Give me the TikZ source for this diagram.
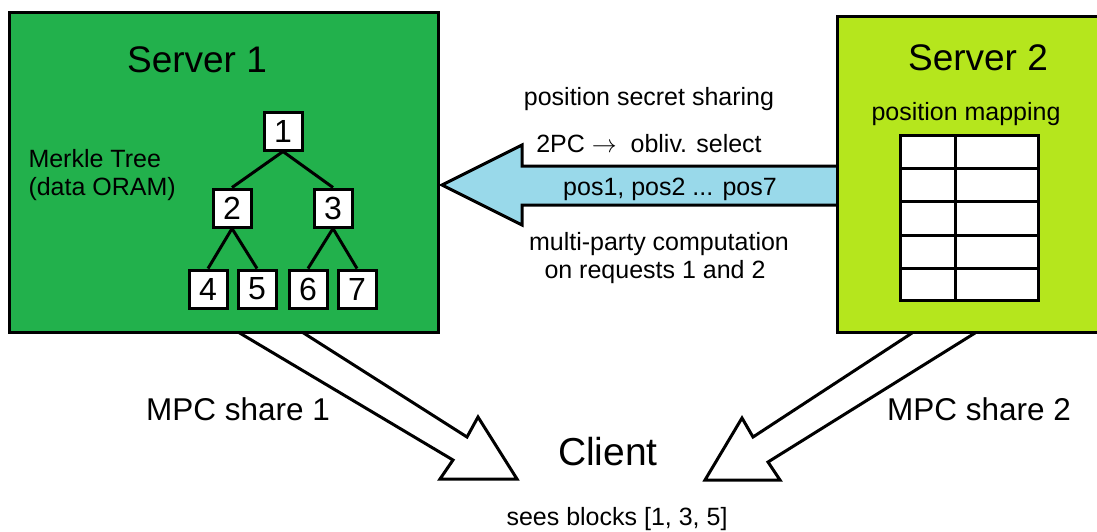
\documentclass[tikz,border=0pt]{standalone}
\usepackage{fontspec}
\setmainfont{Liberation Sans}
\definecolor{srvone}{HTML}{22B14C}
\definecolor{srvtwo}{HTML}{B5E61D}
\definecolor{posblue}{HTML}{99D9EA}
\begin{document}
\begin{tikzpicture}[x=1pt, y=-1pt, line width=3pt, line join=miter]
	\tikzset{leaf/.style={draw, fill=white, minimum size=38pt, inner sep=0pt, font=\fontsize{32}{32}\selectfont},
		txt/.style={inner sep=0pt, anchor=base, font=\fontsize{25}{30}\selectfont},
		title/.style={inner sep=0pt, anchor=base, font=\fontsize{37}{40}\selectfont},
		share/.style={inner sep=0pt, anchor=base, font=\fontsize{31.5}{34}\selectfont},
		hollow/.style={draw, fill=white}}
	\useasboundingbox (0,0) rectangle (1097,531);
	\path (238,332) coordinate (L1) (453,460) coordinate (L2) (440,479) coordinate (L3)
	(517,479) coordinate (L4) (478,417) coordinate (L5) (467,437) coordinate (L6) (302,332) coordinate (L7)
	(912,333) coordinate (R1) (753,437) coordinate (R2) (742,418) coordinate (R3)
	(705,480) coordinate (R4) (780,480) coordinate (R5) (768,462) coordinate (R6) (975,333) coordinate (R7)
	;
	% shares to the client
	\draw[hollow] (L1) -- (L2) -- (L3) -- (L4) -- (L5) -- (L6) -- (L7);
	\draw[hollow] (R1) -- (R2) -- (R3) -- (R4) -- (R5) -- (R6) -- (R7);
	% positions from server 2
	\draw[fill=posblue] (840,166) -- (522,166) -- (522,145) -- (442,185) -- (522,225) -- (522,205) -- (840,205);
	\node[draw, fill=srvone, minimum width=429pt, minimum height=320pt] (S1) at (223.5,172) {};
	\node[draw, fill=srvtwo, minimum width=280pt, minimum height=316pt] (S2) at (977,174.5) {};
	\node[title] (t1) at (197,72) {Server 1};
	\node[title] (t2) at (978,70) {Server 2};
	\node[txt, anchor=base west] (merkle) at (27,167) {Merkle Tree};
	\node[txt, anchor=base west] (oram) at (27,195) {(data ORAM)};
	\node[txt] (pmap) at (966,120) {position mapping};
	% tree
	\foreach \p/\x/\y in {1/283/131,2/232/208,3/333/208,4/208/289,5/257/289,6/308/289,7/357/289}
	\node[leaf] (n\p) at (\x,\y) {\p};
	\foreach \a/\b in {1/2,1/3,2/4,2/5,3/6,3/7}
	\draw (n\a.south) -- (n\b.north);
	% table
	\draw[fill=white] (900,135) rectangle (1038,300);
	\draw (955,135) -- (955,300);
	\foreach \r in {168,201,235,268}
	\draw (900,\r) -- (1038,\r);
	% labels
	\node[txt] (pss) at (649,105) {position secret sharing};
	\node[txt] (tpc) at (649,152) {2PC $\rightarrow$\ \ obliv. select};
	\node[txt] (pos) at (670,195) {pos1, pos2 ... pos7};
	\node[txt] (mpc) at (659,250) {multi-party computation};
	\node[txt] (req) at (655,278) {on requests 1 and 2};
	\node[share] (sh1) at (238,420) {MPC share 1};
	\node[share] (sh2) at (979,420) {MPC share 2};
	\node[inner sep=0pt, anchor=base, font=\fontsize{39}{42}\selectfont] (cl) at (608,465) {Client};
	\node[txt] (sees) at (617,525) {sees blocks [1, 3, 5]};
\end{tikzpicture}
\end{document}
